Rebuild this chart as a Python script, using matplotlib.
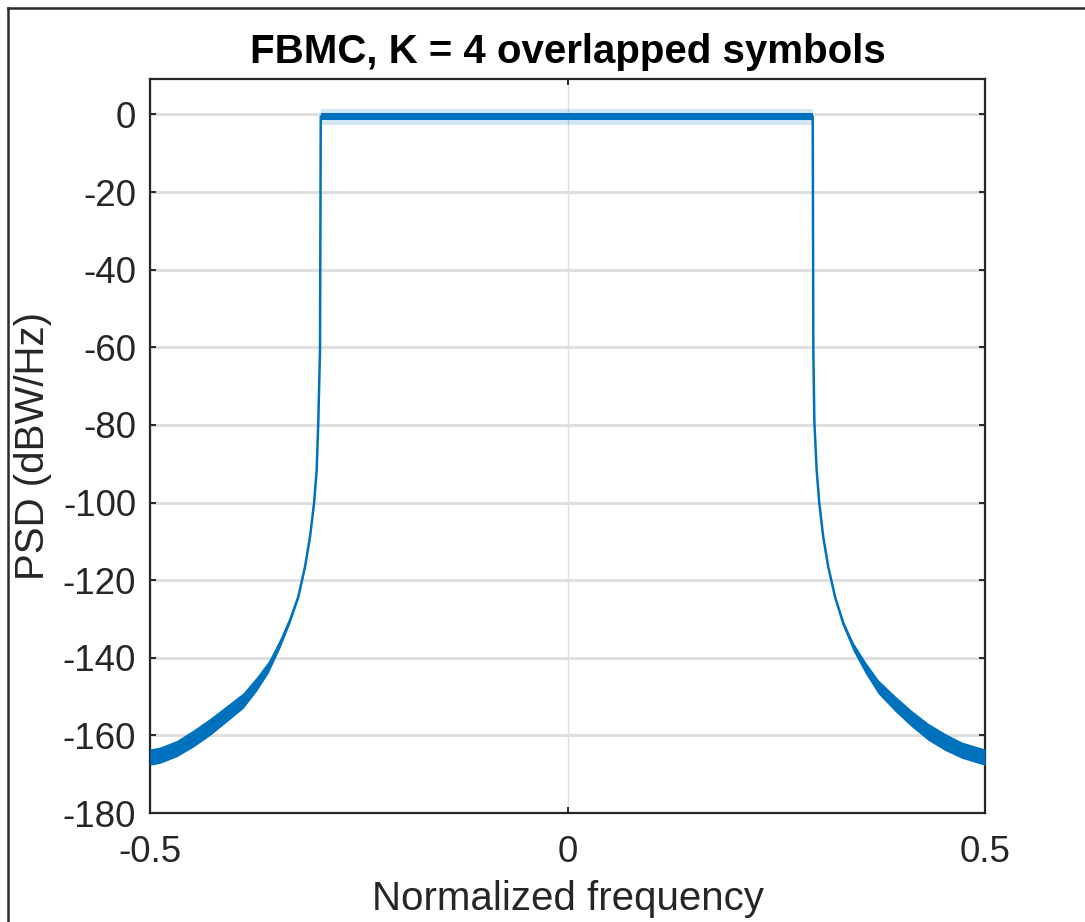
import numpy as np
import matplotlib.pyplot as plt
from matplotlib.lines import Line2D

plt.rcParams['font.family'] = ['Liberation Sans', 'DejaVu Sans']
plt.rcParams['axes.unicode_minus'] = False

# values
# left skirt: frequency, PSD (dB) and half thickness of the noisy band (dB)
f_left = [-0.5000, -0.4880, -0.4680, -0.4481, -0.4281, -0.4081, -0.3883, -0.3722,
          -0.3583, -0.3443, -0.3323, -0.3224, -0.3144, -0.3084, -0.3036, -0.3004,
          -0.2984, -0.2964, -0.2955]
psd_left = [-165.6, -165.1, -163.4, -160.8, -157.8, -154.4, -151.0, -146.7,
            -142.4, -136.3, -130.3, -124.3, -116.6, -108.9, -100.3, -91.7,
            -78.8, -60.7, -0.5]
band_left = [2.1, 2.1, 2.1, 2.2, 2.2, 2.1, 2.0, 1.8,
             1.5, 1.1, 0.7, 0.4, 0.2, 0.1, 0.0, 0.0,
             0.0, 0.0, 0.0]

# right skirt
f_right = [0.2937, 0.2944, 0.2956, 0.2984, 0.3016, 0.3063, 0.3123, 0.3204,
           0.3303, 0.3423, 0.3563, 0.3722, 0.3922, 0.4122, 0.4321, 0.4521,
           0.4721, 0.4920, 0.5000]
psd_right = [-0.5, -60.7, -78.8, -91.7, -100.3, -108.9, -116.6, -124.3,
             -131.2, -137.2, -142.4, -147.5, -151.8, -155.7, -159.1, -161.7,
             -163.8, -165.1, -165.6]
band_right = [0.0, 0.0, 0.0, 0.0, 0.0, 0.1, 0.2, 0.4,
              0.7, 1.1, 1.5, 1.8, 2.0, 2.1, 2.2, 2.2,
              2.1, 2.1, 2.1]

# flat passband: ends, dense noise band and sparse spikes (dB)
f_top = [-0.2955, 0.2937]
top_core = [-1.5, 0.3]
top_spikes = [-2.6, 1.4]

blue = '#0072BD'
dark = '#262626'

fig = plt.figure(figsize=(10.85, 9.22), dpi=100)
ax = fig.add_axes([150 / 1085, 109 / 922, 835 / 1085, 733.5 / 922])

ax.fill_between(f_top, top_spikes[0], top_spikes[1], color=blue, alpha=0.18, lw=0, zorder=2)
ax.fill_between(f_top, top_core[0], top_core[1], color=blue, lw=0, zorder=3)

fl = np.array(f_left)
pl = np.array(psd_left)
bl = np.array(band_left)
fr = np.array(f_right)
pr = np.array(psd_right)
br = np.array(band_right)
ax.fill_between(fl, pl - bl, pl + bl, color=blue, lw=0, zorder=3)
ax.fill_between(fr, pr - br, pr + br, color=blue, lw=0, zorder=3)

ax.plot(np.concatenate([fl, fr]), np.concatenate([pl, pr]), color=blue, lw=1.8,
        solid_joinstyle='round', zorder=4)

ax.set_xlim(-0.5, 0.5)
ax.set_ylim(-180, 9)
ax.set_xticks([-0.5, 0, 0.5])
ax.set_xticklabels(['-0.5', '0', '0.5'])
ax.set_yticks(np.arange(-180, 1, 20))

ax.grid(axis='y', color='#DFDFDF', lw=2.2, zorder=0)
ax.grid(axis='x', color='#DFDFDF', lw=1.0, zorder=0)
ax.set_axisbelow(True)

for s in ax.spines.values():
    s.set_linewidth(1.6)
    s.set_color(dark)
ax.tick_params(direction='in', length=4.5, width=1.4, color=dark,
               labelsize=26.5, labelcolor=dark, pad=10,
               right=True, top=True)
ax.tick_params(axis='x', pad=16)

ax.set_title('FBMC, K = 4 overlapped symbols', fontsize=29, fontweight='bold', pad=12)
ax.set_xlabel('Normalized frequency', fontsize=29, color=dark, labelpad=7)
ax.set_ylabel('PSD (dBW/Hz)', fontsize=29, color=dark, labelpad=8)

# border of the figure window
fig.add_artist(Line2D([7.5 / 1085, 7.5 / 1085], [0, 1 - 8 / 922], transform=fig.transFigure,
                      color='#2b2b2b', lw=1.8))
fig.add_artist(Line2D([7.5 / 1085, 1], [1 - 8 / 922, 1 - 8 / 922], transform=fig.transFigure,
                      color='#2b2b2b', lw=1.8))

fig.savefig('out.png', dpi=100)
